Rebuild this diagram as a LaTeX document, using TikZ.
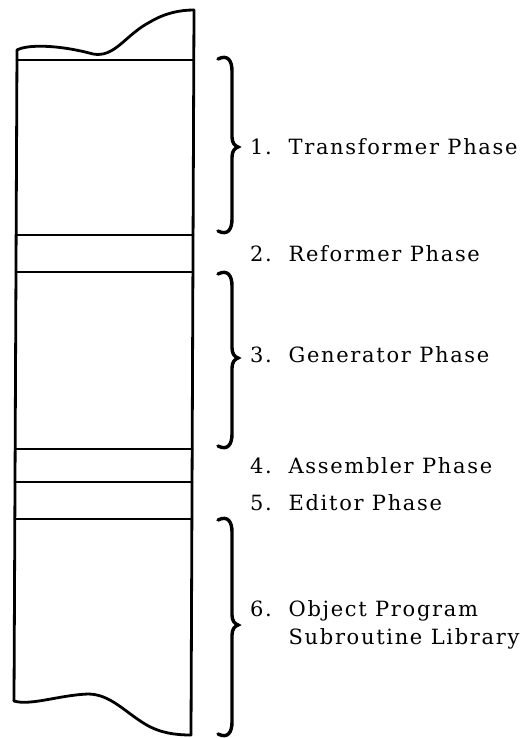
\documentclass[tikz,border=0pt]{standalone}
\usepackage{fontspec}
\setmainfont{DejaVu Serif}[LetterSpace=8]
\newcommand{\phasebrace}[4]{% spine x, top y, bottom y, tip y
  \draw[bracestyle] ({#1-14},{#2+2}) .. controls ({#1-4},{#2-3}) and ({#1},{#2+4}) .. ({#1},{#2+14})
    -- ({#1},{#4-10}) .. controls ({#1},{#4-4}) and ({#1+3},{#4-1}) .. ({#1+6},{#4})
    .. controls ({#1+3},{#4+1}) and ({#1},{#4+4}) .. ({#1},{#4+10})
    -- ({#1},{#3-14}) .. controls ({#1},{#3-4}) and ({#1-4},{#3+3}) .. ({#1-14},{#3-2});}
\begin{document}
\begin{tikzpicture}[x=1pt,y=-1pt,
  col/.style={line width=2.8pt,line join=round,line cap=round},
  bracestyle/.style={line width=3.4pt,line cap=round},
  lbl/.style={anchor=base west,inner sep=0pt,font=\fontsize{21}{25}\selectfont}]
\useasboundingbox[fill=white] (0,0) rectangle (527,738);
% column outline
\draw[col] (194,10) -- (191,735);
\draw[col] (17,50) -- (14,701);
\draw[col] (17,50) .. controls (28,44) and (60,45) .. (93,54)
  .. controls (115,58) and (125,35) .. (150,22)
  .. controls (165,13) and (180,10) .. (194,10);
\draw[col] (14,701) .. controls (30,706) and (60,695) .. (88,694)
  .. controls (110,694) and (125,712) .. (145,724)
  .. controls (160,733) and (175,735) .. (191,735);
% partition lines
\draw[col] (17.0,60) -- (193.8,60);
\draw[col] (16.1,235) -- (193.1,235);
\draw[col] (16.0,272) -- (192.9,272);
\draw[col] (15.2,449) -- (192.2,449);
\draw[col] (15.0,482) -- (192.0,482);
\draw[col] (14.8,519) -- (191.9,519);
% braces
\phasebrace{232}{57}{233}{147}
\phasebrace{232}{272}{448}{358}
\phasebrace{232}{518}{736}{625}
% labels
\node[lbl] (t1) at (250,155) {1.\ \ Transformer Phase};
\node[lbl] (t2) at (250,261) {2.\ \ Reformer Phase};
\node[lbl] (t3) at (250,362) {3.\ \ Generator Phase};
\node[lbl] (t4) at (250,473) {4.\ \ Assembler Phase};
\node[lbl] (t5) at (250,510) {5.\ \ Editor Phase};
\node[lbl] (t6) at (250,616) {6.\ \ Object Program};
\node[lbl] (t6b) at (250,644) {\phantom{6.\ \ }Subroutine Library};
\end{tikzpicture}
\end{document}
